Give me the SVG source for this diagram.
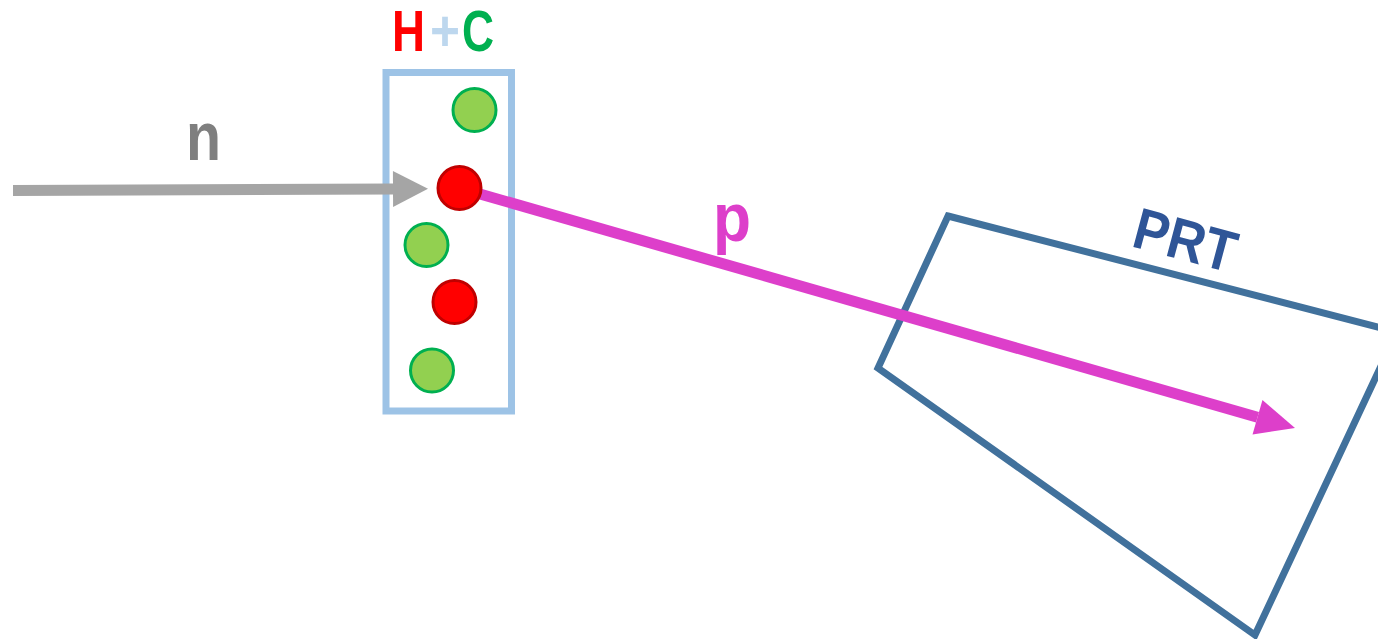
<svg xmlns="http://www.w3.org/2000/svg" width="1378" height="639" viewBox="0 0 1378 639">
<style>
.lbl{font-family:"Liberation Sans",Arial,sans-serif;font-weight:bold}
.g{fill:#92D050;stroke:#00B050;stroke-width:3}
.r{fill:#FF0000;stroke:#C00000;stroke-width:3}
</style>
<defs>
<marker id="ahGrey" markerUnits="userSpaceOnUse" markerWidth="36" markerHeight="36" refX="0" refY="18" orient="auto" overflow="visible"><path d="M0,0 L35,18 L0,36 Z" fill="#A5A5A5"/></marker>
<marker id="ahMag" markerUnits="userSpaceOnUse" markerWidth="40" markerHeight="36" refX="0" refY="18" orient="auto" overflow="visible"><path d="M0,0 L39,18 L0,36 Z" fill="#DD3FCA"/></marker>
</defs>
<rect width="1378" height="639" fill="#FFFFFF"/>
<g id="prt">
<polygon points="948,216 1397,332 1255,635 878,368" fill="none" stroke="#41719C" stroke-width="7" stroke-linejoin="miter"/>
<text class="lbl" x="1130" y="246" font-size="58" fill="#2F5597" textLength="104" lengthAdjust="spacingAndGlyphs" transform="rotate(15 1130 246)">PRT</text>
</g>
<g id="target">
<rect x="386" y="72.5" width="125.5" height="338.5" fill="none" stroke="#9DC3E6" stroke-width="7"/>
<text class="lbl" x="392" y="51" font-size="57" fill="#FF0000" textLength="33" lengthAdjust="spacingAndGlyphs">H</text>
<text class="lbl" x="430" y="51" font-size="57" fill="#BDD7EE" textLength="30" lengthAdjust="spacingAndGlyphs">+</text>
<text class="lbl" x="462" y="51" font-size="57" fill="#00B050" textLength="32" lengthAdjust="spacingAndGlyphs">C</text>
</g>
<g id="connectors">
<line x1="13" y1="190.5" x2="393" y2="189" stroke="#A5A5A5" stroke-width="11" marker-end="url(#ahGrey)"/>
<line x1="459" y1="188" x2="1257.5" y2="417.2" stroke="#DD3FCA" stroke-width="11" marker-end="url(#ahMag)"/>
<text class="lbl" x="186" y="160" font-size="68" fill="#7F7F7F" textLength="35" lengthAdjust="spacingAndGlyphs">n</text>
<text class="lbl" x="713" y="241" font-size="68" fill="#DD3FCA" textLength="38" lengthAdjust="spacingAndGlyphs">p</text>
</g>
<g id="particles">
<circle id="c1" class="g" cx="474.5" cy="110" r="21.5"/>
<circle id="c2" class="r" cx="459.5" cy="188" r="21.5"/>
<circle id="c3" class="g" cx="426.5" cy="245" r="21.5"/>
<circle id="c4" class="r" cx="454.5" cy="302" r="21.5"/>
<circle id="c5" class="g" cx="432" cy="370.5" r="21.5"/>
</g>
</svg>
